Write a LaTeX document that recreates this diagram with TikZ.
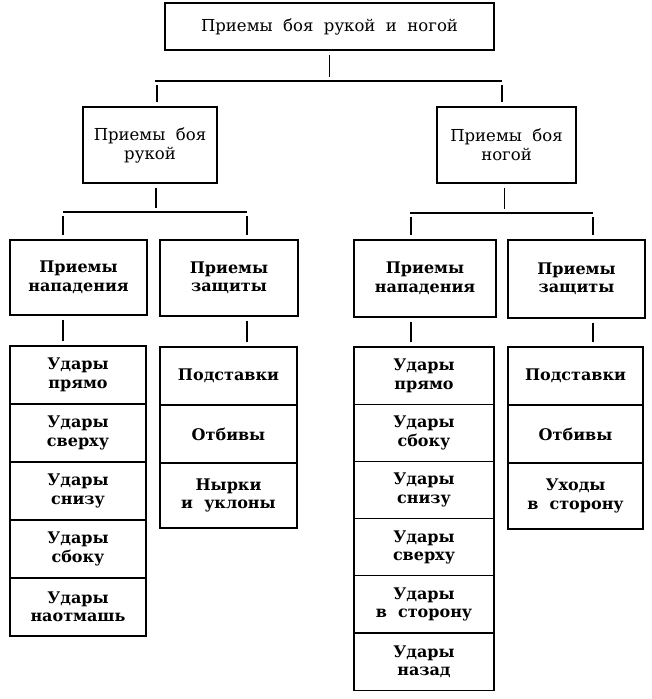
\documentclass[tikz,border=0pt]{standalone}
\usepackage{fontspec}
\setmainfont{DejaVu Serif}[WordSpace=2]
\begin{document}
\begin{tikzpicture}[x=1pt,y=-1pt,
  box/.style={draw, line width=1.2pt, align=center, inner sep=2pt, font=\fontsize{16.5}{19}\selectfont},
  cell/.style={box, font=\bfseries\fontsize{16}{18.5}\selectfont},
  tie/.style={line width=1.2pt, shorten <=4pt, shorten >=4pt},
  bar/.style={line width=1.2pt}]
\useasboundingbox (0,0) rectangle (652,699);
% top of the tree
\node[box, minimum width=329pt, minimum height=47pt] (all) at (329.5,26.5) {Приемы боя рукой и ногой};
\node[box, minimum width=134pt, minimum height=76pt] (arm) at (150,145) {Приемы боя\\рукой};
\node[box, minimum width=139pt, minimum height=76pt] (leg) at (506.5,145) {Приемы боя\\ногой};
\coordinate (b1l) at (157,81);
\coordinate (b1r) at (502,81);
\draw[tie] (all.south) -- (all.south |- b1l);
\draw[bar] ([xshift=-2pt]b1l) -- (b1r);
\draw[tie] (b1l) -- (b1l |- arm.north);
\draw[tie] (b1r) -- (b1r |- leg.north);
% attack and defence
\node[cell, minimum width=137pt, minimum height=75pt] (la) at (78.5,277.5) {Приемы\\нападения};
\node[cell, minimum width=138pt, minimum height=76pt] (ld) at (229,278) {Приемы\\защиты};
\node[cell, minimum width=142pt, minimum height=77pt] (ra) at (425,278.5) {Приемы\\нападения};
\node[cell, minimum width=137pt, minimum height=78pt] (rd) at (576.5,279) {Приемы\\защиты};
\coordinate (b2l) at (63,212);
\coordinate (b2r) at (247,212);
\coordinate (b3l) at (411,213);
\coordinate (b3r) at (593,213);
\draw[tie] ([xshift=6pt]arm.south) -- ([xshift=6pt]arm.south |- b2l);
\draw[bar] (b2l) -- (b2r);
\draw[tie] (b2l) -- (b2l |- la.north);
\draw[tie] (b2r) -- (b2r |- ld.north);
\draw[tie] ([xshift=-2pt]leg.south) -- ([xshift=-2pt]leg.south |- b3l);
\draw[bar] ([xshift=-1pt]b3l) -- (b3r);
\draw[tie] (b3l) -- (b3l |- ra.north);
\draw[tie] (b3r) -- (b3r |- rd.north);
% hand blows
\begin{scope}[every node/.append style={minimum width=136pt, minimum height=58pt}]
\node[cell] (la1) at (78,375) {Удары\\прямо};
\node[cell] (la2) at (78,433) {Удары\\сверху};
\node[cell] (la3) at (78,491) {Удары\\снизу};
\node[cell] (la4) at (78,549) {Удары\\сбоку};
\node[cell] (la5) at (78,607) {Удары\\наотмашь};
\end{scope}
\begin{scope}[every node/.append style={minimum width=137pt, minimum height=58pt}]
\node[cell] (ld1) at (228.5,376) {Подставки};
\node[cell] (ld2) at (228.5,434) {Отбивы};
\node[cell, minimum height=65pt] (ld3) at (228.5,495.5) {Нырки\\и уклоны};
\end{scope}
% leg blows
\begin{scope}[every node/.append style={minimum width=140pt, minimum height=57.2pt}]
\node[cell] (ra1) at (424,375.6) {Удары\\прямо};
\node[cell] (ra2) at (424,432.8) {Удары\\сбоку};
\node[cell] (ra3) at (424,490) {Удары\\снизу};
\node[cell] (ra4) at (424,547.2) {Удары\\сверху};
\node[cell] (ra5) at (424,604.4) {Удары\\в сторону};
\node[cell] (ra6) at (424,661.6) {Удары\\назад};
\end{scope}
\begin{scope}[every node/.append style={minimum width=135pt, minimum height=58pt}]
\node[cell] (rd1) at (575.5,376) {Подставки};
\node[cell] (rd2) at (575.5,434) {Отбивы};
\node[cell, minimum height=66pt] (rd3) at (575.5,496) {Уходы\\в сторону};
\end{scope}
\draw[tie] (b2l |- la.south) -- (b2l |- la1.north);
\draw[tie] (b2r |- ld.south) -- (b2r |- ld1.north);
\draw[tie] (b3l |- ra.south) -- (b3l |- ra1.north);
\draw[tie] (b3r |- rd.south) -- (b3r |- rd1.north);
\end{tikzpicture}
\end{document}
